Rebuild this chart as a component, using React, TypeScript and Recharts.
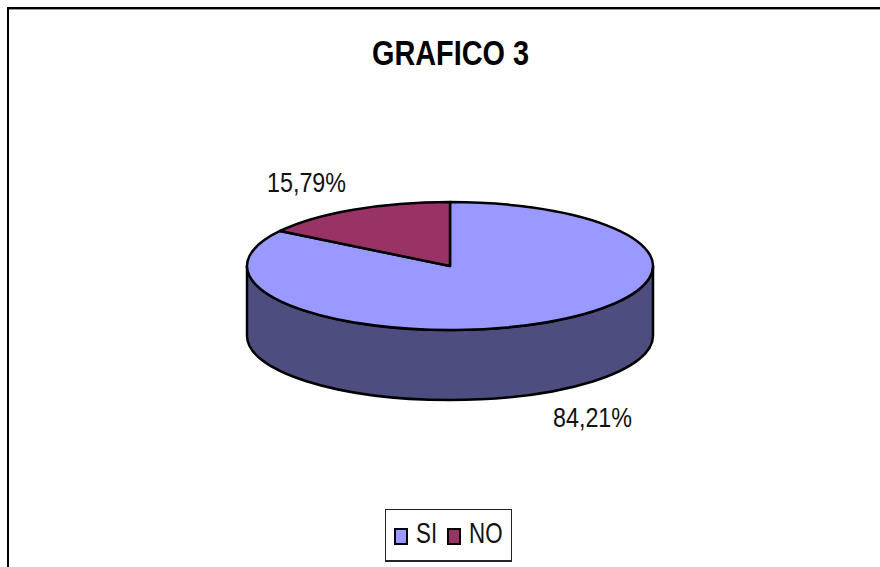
import React from 'react';
import { Legend, Pie, PieChart } from 'recharts';

const categories = ['SI', 'NO'];
const seriesValues = [84.21, 15.79];
const percentLabels = ['84,21%', '15,79%'];
const topColors = ['#9999ff', '#993366'];
const sideColors = ['#4d4d80', '#4d1a33'];

const FONT = '"Liberation Sans", Arial, sans-serif';
const CX = 450;
const CY = 266;
const RX = 203;
const RY = 64;
const DEPTH = 70;

const chartData = categories.map((name, i) => ({
  name,
  value: seriesValues[i],
  label: percentLabels[i],
  fill: topColors[i],
  side: sideColors[i],
}));

// recharts angles go counter-clockwise from 3 o'clock
function ellipsePoint(angle: number, dy = 0) {
  const rad = (angle * Math.PI) / 180;
  return [CX + RX * Math.cos(rad), CY - RY * Math.sin(rad) + dy];
}

function SlantedSlice(props: any) {
  const { startAngle, endAngle, fill, side } = props;
  const lo = Math.min(startAngle, endAngle);
  const hi = Math.max(startAngle, endAngle);
  const [x0, y0] = ellipsePoint(lo);
  const [x1, y1] = ellipsePoint(hi);
  const large = hi - lo > 180 ? 1 : 0;
  const top = `M${CX},${CY} L${x0},${y0} A${RX},${RY} 0 ${large} 0 ${x1},${y1} Z`;

  // only the front half of the rim is visible, angles here run 90 to -270
  const wallLo = Math.max(lo, -180);
  const wallHi = Math.min(hi, 0);
  let wall = null;
  if (wallHi > wallLo) {
    const [wx0, wy0] = ellipsePoint(wallLo);
    const [wx1, wy1] = ellipsePoint(wallHi);
    wall = (
      <path
        d={`M${wx0},${wy0} A${RX},${RY} 0 0 0 ${wx1},${wy1} L${wx1},${wy1 + DEPTH} A${RX},${RY} 0 0 1 ${wx0},${wy0 + DEPTH} Z`}
        fill={side}
        stroke="#000"
        strokeWidth={2.5}
        strokeLinejoin="round"
      />
    );
  }
  return (
    <g>
      {wall}
      <path d={top} fill={fill} stroke="#000" strokeWidth={2.5} strokeLinejoin="round" />
    </g>
  );
}

function renderLabel(props: any) {
  const { payload, index } = props;
  const spots = [
    [553, 427],
    [267, 192],
  ];
  return (
    <text
      x={spots[index][0]}
      y={spots[index][1]}
      textAnchor="start"
      fontFamily={FONT}
      fontSize={28}
      textLength={79}
      lengthAdjust="spacingAndGlyphs"
      fill="#111"
    >
      {payload.label}
    </text>
  );
}

function LegendBox({ payload }: any) {
  return (
    <div
      style={{
        width: 127,
        height: 53,
        boxSizing: 'border-box',
        border: '1px solid #222',
        borderBottomWidth: 2,
        display: 'flex',
        alignItems: 'center',
        paddingLeft: 8,
        fontFamily: FONT,
        fontSize: 29,
        color: '#111',
        background: '#fff',
      }}
    >
      {payload.map((item: any) => (
        <span key={item.value} style={{ display: 'flex', alignItems: 'center' }}>
          <span
            style={{
              display: 'inline-block',
              boxSizing: 'border-box',
              width: 14,
              height: 17,
              background: item.color,
              border: '2px solid #000',
              marginRight: 8,
              marginTop: 3,
            }}
          />
          <span
            style={{
              display: 'inline-block',
              width: item.value === 'SI' ? 31 : 33,
              transform: 'translateY(-2px) scaleX(0.77)',
              transformOrigin: 'left center',
              whiteSpace: 'nowrap',
            }}
          >
            {item.value}
          </span>
        </span>
      ))}
    </div>
  );
}

export default function App() {
  return (
    <div style={{ position: 'absolute', left: 0, top: 0, width: 880, height: 567, overflow: 'hidden', background: '#fff' }}>
      <PieChart width={880} height={567} margin={{ top: 0, right: 0, bottom: 0, left: 0 }}>
        <rect x={8} y={8} width={900} height={600} fill="#fff" stroke="#000" strokeWidth={2} />
        <line x1={9} y1={9.5} x2={880} y2={9.5} stroke="#999" strokeWidth={1} />
        <text
          x={372}
          y={65}
          fontFamily={FONT}
          fontSize={35}
          fontWeight="bold"
          textLength={157}
          lengthAdjust="spacingAndGlyphs"
          fill="#000"
        >
          GRAFICO 3
        </text>
        <Pie
          data={chartData}
          dataKey="value"
          nameKey="name"
          cx={CX}
          cy={CY}
          outerRadius={RX}
          startAngle={90}
          endAngle={-270}
          stroke="#000"
          shape={SlantedSlice}
          label={renderLabel}
          labelLine={false}
          isAnimationActive={false}
        />
        <Legend
          layout="horizontal"
          align="left"
          verticalAlign="top"
          itemSorter={null}
          content={LegendBox}
          wrapperStyle={{ left: 385, top: 509, width: 127 }}
        />
      </PieChart>
    </div>
  );
}
